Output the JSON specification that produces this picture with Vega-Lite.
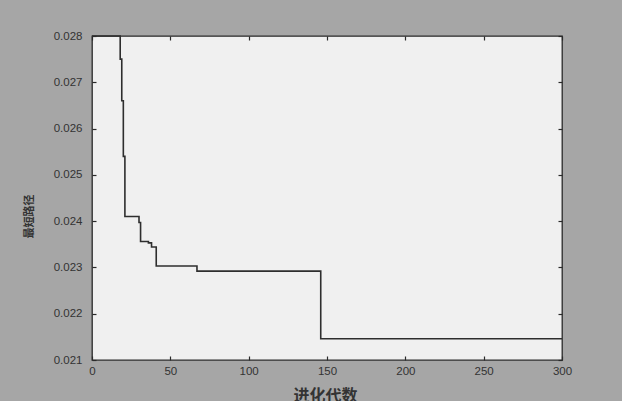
{
  "$schema": "https://vega.github.io/schema/vega-lite/v6.json",
  "width": 470,
  "height": 324,
  "autosize": {"type": "none"},
  "padding": {"left": 92, "top": 36, "right": 60, "bottom": 41},
  "background": "#a6a6a6",
  "config": {
    "view": {"fill": "#f0f0f0", "stroke": "#2a2a2a", "strokeWidth": 1.3},
    "font": "Liberation Sans",
    "axis": {
      "grid": false,
      "domain": false,
      "zindex": 1,
      "tickColor": "#2a2a2a",
      "tickWidth": 1.2,
      "tickSize": -4,
      "labelFlush": false,
      "labelColor": "#333333",
      "labelFont": "Liberation Sans",
      "labelFontSize": 11.5,
      "titleColor": "#333333",
      "titleFont": "Noto Sans CJK SC"
    }
  },
  "data": {
    "values": [
      {"gen": 0, "len": 0.028},
      {"gen": 18, "len": 0.0275},
      {"gen": 19, "len": 0.0266},
      {"gen": 20, "len": 0.0254},
      {"gen": 21, "len": 0.0241},
      {"gen": 30, "len": 0.02397},
      {"gen": 31, "len": 0.02356},
      {"gen": 36, "len": 0.02353},
      {"gen": 38, "len": 0.02344},
      {"gen": 41, "len": 0.02303},
      {"gen": 67, "len": 0.02292},
      {"gen": 146, "len": 0.02146},
      {"gen": 300, "len": 0.02146}
    ]
  },
  "layer": [
    {
      "mark": {"type": "line", "interpolate": "step-after", "color": "#2e2e2e", "strokeWidth": 1.6},
      "encoding": {
        "x": {
          "field": "gen", "type": "quantitative",
          "scale": {"domain": [0, 300], "nice": false, "zero": false},
          "axis": {"values": [0, 50, 100, 150, 200, 250, 300], "title": "进化代数", "titleFontSize": 16, "titleFontWeight": "bold", "labelPadding": 9, "titleBaseline": "middle", "titleY": 35, "titleX": 233}
        },
        "y": {
          "field": "len", "type": "quantitative",
          "scale": {"domain": [0.021, 0.028], "nice": false, "zero": false},
          "axis": {"values": [0.021, 0.022, 0.023, 0.024, 0.025, 0.026, 0.027, 0.028], "format": ".3f", "title": "最短路径", "titleFontSize": 11, "titleFontWeight": "bold", "labelPadding": 14, "titleBaseline": "middle", "titleAngle": -90, "titleX": -63, "titleY": 180}
        }
      }
    },
    {
      "mark": {"type": "line", "opacity": 0},
      "encoding": {
        "x": {
          "field": "gen", "type": "quantitative",
          "axis": {"orient": "top", "values": [0, 50, 100, 150, 200, 250, 300], "labels": false, "title": null}
        },
        "y": {
          "field": "len", "type": "quantitative",
          "axis": {"orient": "right", "values": [0.021, 0.022, 0.023, 0.024, 0.025, 0.026, 0.027, 0.028], "labels": false, "title": null}
        }
      }
    }
  ],
  "resolve": {"axis": {"x": "independent", "y": "independent"}}
}
